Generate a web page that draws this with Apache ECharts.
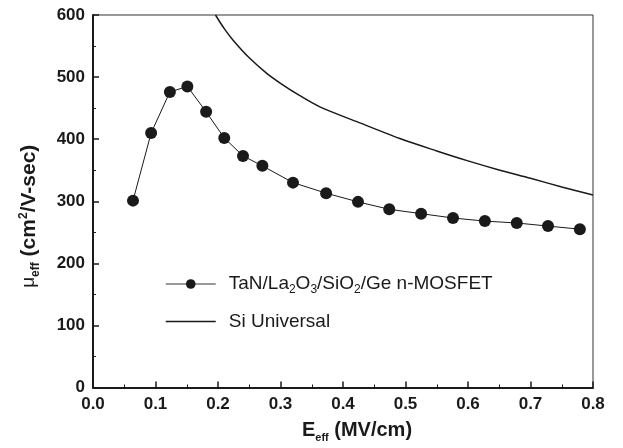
<!DOCTYPE html>
<html>
<head>
<meta charset="utf-8">
<script src="https://cdn.jsdelivr.net/npm/echarts@6/dist/echarts.min.js"></script>
<style>
  html, body { margin: 0; padding: 0; background: #fff; }
  #chart { width: 623px; height: 448px; }
</style>
</head>
<body>
<div id="chart"></div>
<script>
// measured Ge n-MOSFET mobility
const fieldGe = [0.064, 0.093, 0.123, 0.151, 0.181, 0.21, 0.24, 0.271, 0.32, 0.373, 0.424, 0.474, 0.525, 0.576, 0.627, 0.678, 0.728, 0.779];
const mobilityGe = [301, 410, 476, 485, 444, 402, 373, 357, 330, 313, 299, 287, 280, 273, 268, 265, 260, 255];

// Si universal curve
const fieldSi = [0.196, 0.21, 0.2245, 0.25, 0.278, 0.30, 0.331, 0.363, 0.42, 0.491, 0.55, 0.60, 0.651, 0.70, 0.75, 0.80];
const mobilitySi = [600, 578, 559, 531, 506, 490, 470, 452, 429, 401, 381, 365, 350, 337, 323, 310];

const xTicks = [0, 0.1, 0.2, 0.3, 0.4, 0.5, 0.6, 0.7, 0.8];
const yTicks = [0, 100, 200, 300, 400, 500, 600];

const pair = (xs, ys) => xs.map((x, i) => [x, ys[i]]);

const font = 'Liberation Sans, Arial, sans-serif';
const ink = '#1a1a1a';

const chart = echarts.init(document.getElementById('chart'));

chart.setOption({
  animation: false,
  backgroundColor: '#fff',
  grid: {
    left: 93,
    right: 30,
    top: 15,
    bottom: 60,
    show: true,
    borderColor: '#333',
    borderWidth: 1
  },
  legend: {
    orient: 'vertical',
    left: 165,
    top: 272,
    padding: 0,
    itemWidth: 50,
    itemHeight: 12,
    itemGap: 16,
    data: [
      { name: 'ge', lineStyle: { color: '#777', width: 1.5 } },
      { name: 'si', icon: 'path://M0,0 L50,0 L50,1.5 L0,1.5 Z' }
    ],
    formatter: (name) => name === 'ge'
      ? '{n|TaN/La}{s|2}{n|O}{s|3}{n|/SiO}{s|2}{n|/Ge n-MOSFET}'
      : '{n|Si Universal}',
    textStyle: {
      padding: [0, 0, 0, 8],
      rich: {
        n: { fontFamily: font, fontSize: 19, color: ink, lineHeight: 20 },
        s: { fontFamily: font, fontSize: 12, color: ink, lineHeight: 20, padding: [12, 0, 0, 0] }
      }
    }
  },
  xAxis: {
    type: 'value',
    min: xTicks[0],
    max: xTicks[xTicks.length - 1],
    interval: 0.1,
    name: '{b|E}{sb|eff}{b| (MV/cm)}',
    nameLocation: 'middle',
    nameGap: 32,
    nameTextStyle: {
      padding: [0, 0, 0, 28],
      rich: {
        b: { fontFamily: font, fontSize: 20, fontWeight: 'bold', color: ink, lineHeight: 22 },
        sb: { fontFamily: font, fontSize: 11, fontWeight: 'bold', color: ink, lineHeight: 22, padding: [14, 0, 0, 0] }
      }
    },
    axisLine: { lineStyle: { color: ink, width: 2 } },
    axisTick: { inside: true, length: 6, lineStyle: { color: ink, width: 1.5 } },
    minorTick: { show: true, splitNumber: 2, length: 3, lineStyle: { color: ink, width: 1 } },
    axisLabel: {
      margin: 8,
      fontFamily: font,
      fontSize: 17,
      fontWeight: 'bold',
      color: ink,
      formatter: (v) => v.toFixed(1)
    },
    splitLine: { show: false }
  },
  yAxis: {
    type: 'value',
    min: yTicks[0],
    max: yTicks[yTicks.length - 1],
    interval: 100,
    name: '{m|\u03bc}{sb|eff}{b| (cm}{sp|2}{b|/V-sec)}',
    nameLocation: 'middle',
    nameRotate: 90,
    nameGap: 52,
    nameTextStyle: {
      padding: [0, 30, 0, 0],
      rich: {
        m: { fontFamily: font, fontSize: 19, color: ink, lineHeight: 24 },
        b: { fontFamily: font, fontSize: 21, fontWeight: 'bold', color: ink, lineHeight: 24 },
        sb: { fontFamily: font, fontSize: 12, fontWeight: 'bold', color: ink, lineHeight: 24, padding: [13, 0, 0, 0] },
        sp: { fontFamily: font, fontSize: 12, fontWeight: 'bold', color: ink, lineHeight: 24, padding: [0, 0, 11, 0] }
      }
    },
    axisLine: { show: true, lineStyle: { color: ink, width: 2 } },
    axisTick: { show: true, inside: true, length: 6, lineStyle: { color: ink, width: 1.5 } },
    minorTick: { show: true, splitNumber: 2, length: 3, lineStyle: { color: ink, width: 1 } },
    axisLabel: {
      margin: 8,
      fontFamily: font,
      fontSize: 17,
      fontWeight: 'bold',
      color: ink
    },
    splitLine: { show: false }
  },
  series: [
    {
      name: 'ge',
      type: 'line',
      data: pair(fieldGe, mobilityGe),
      symbol: 'circle',
      symbolSize: 12,
      itemStyle: { color: ink },
      lineStyle: { color: ink, width: 1 }
    },
    {
      name: 'si',
      type: 'line',
      data: pair(fieldSi, mobilitySi),
      symbol: 'none',
      smooth: 0.3,
      itemStyle: { color: ink },
      lineStyle: { color: ink, width: 1.5 }
    }
  ]
});
</script>
</body>
</html>
